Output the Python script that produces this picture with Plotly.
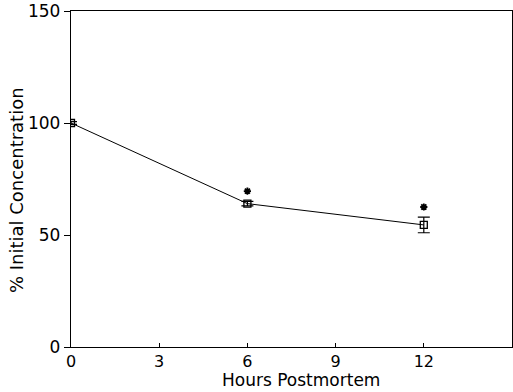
import plotly.graph_objects as go

hours = [0, 6, 12]
concentration = [100, 64, 54.5]
sem = [0.6, 1.0, 3.5]
star_hours = [6, 12]
star_values = [69.6, 62.5]
x_ticks = [0, 3, 6, 9, 12]
y_ticks = [0, 50, 100, 150]
x_title = "Hours Postmortem"
y_title = "% Initial Concentration"

fig = go.Figure()
fig.add_trace(go.Scatter(
    x=hours, y=concentration, mode="lines+markers",
    line=dict(color="black", width=1),
    marker=dict(symbol="square-open", size=7, color="black", line=dict(width=1.3)),
    error_y=dict(type="data", array=sem, visible=True, color="black", thickness=1.2, width=6),
    showlegend=False,
))
fig.add_trace(go.Scatter(
    x=star_hours, y=star_values, mode="markers",
    marker=dict(symbol="asterisk-open", size=6, color="black", line=dict(width=1.8, color="black")),
    showlegend=False,
))

font = "DejaVu Sans, Liberation Sans, Arial, sans-serif"
fig.update_layout(
    width=513, height=392,
    margin=dict(l=71, r=1, t=11, b=45),
    paper_bgcolor="white", plot_bgcolor="white",
    font=dict(family=font, color="black"),
    annotations=[
        dict(text=x_title, xref="paper", yref="paper", x=0.5215, y=-0.098,
             xanchor="center", yanchor="middle", showarrow=False,
             font=dict(size=17, family=font)),
        dict(text=y_title, xref="paper", yref="paper", x=-0.1247, y=0.467,
             xanchor="center", yanchor="middle", showarrow=False, textangle=-90,
             font=dict(size=18, family=font)),
    ],
)
fig.update_xaxes(
    range=[0, 15], tickvals=x_ticks, ticktext=[str(v) for v in x_ticks],
    ticks="inside", ticklen=4, tickcolor="black",
    showline=True, linecolor="black", linewidth=1.3, mirror=True,
    showgrid=False, zeroline=False,
    tickfont=dict(size=16, family=font),
)
fig.update_yaxes(
    range=[0, 150], tickvals=y_ticks, ticktext=[str(v) for v in y_ticks],
    ticks="outside", ticklen=6, tickcolor="black",
    showline=True, linecolor="black", linewidth=1.3, mirror=True,
    showgrid=False, zeroline=False,
    tickfont=dict(size=17, family=font),
)
fig.write_html(
    "out.html",
    config={"displayModeBar": False},
    post_script="document.body.style.margin='0';document.body.style.padding='0';",
)
